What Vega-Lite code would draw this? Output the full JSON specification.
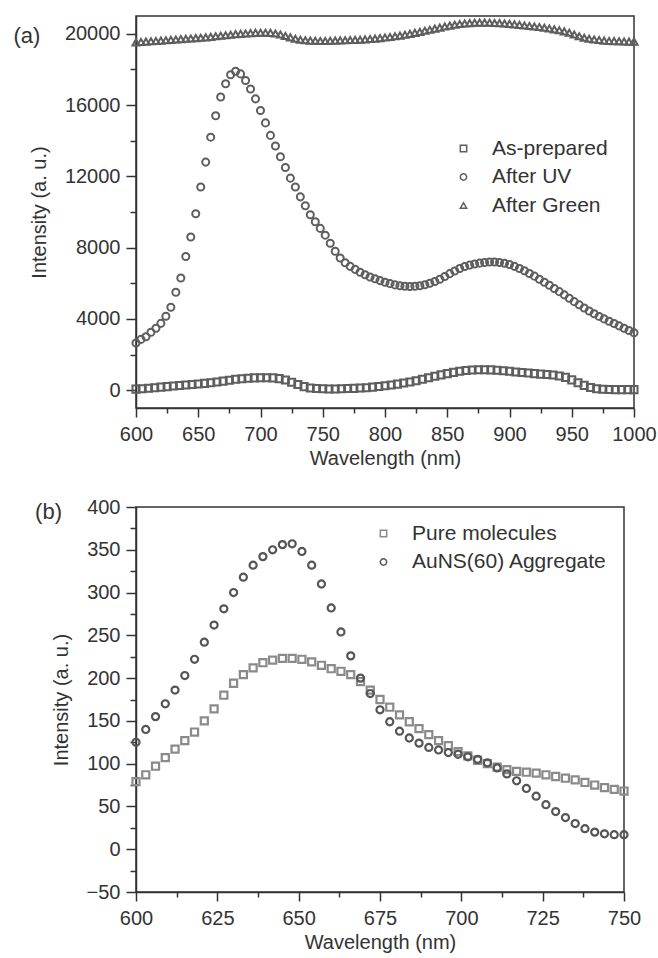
{
  "$schema": "https://vega.github.io/schema/vega-lite/v6.json",
  "padding": {"left": 12, "top": 14, "right": 0, "bottom": 0},
  "background": "white",
  "spacing": 27,
  "datasets": {
    "a": [
      {"s":"As-prepared","w":600,"v":60},{"s":"As-prepared","w":605,"v":80},{"s":"As-prepared","w":610,"v":110},{"s":"As-prepared","w":615,"v":140},{"s":"As-prepared","w":620,"v":170},{"s":"As-prepared","w":625,"v":200},{"s":"As-prepared","w":630,"v":230},{"s":"As-prepared","w":635,"v":260},{"s":"As-prepared","w":640,"v":290},{"s":"As-prepared","w":645,"v":320},{"s":"As-prepared","w":650,"v":350},{"s":"As-prepared","w":655,"v":380},{"s":"As-prepared","w":660,"v":420},{"s":"As-prepared","w":665,"v":460},{"s":"As-prepared","w":670,"v":510},{"s":"As-prepared","w":675,"v":560},{"s":"As-prepared","w":680,"v":610},{"s":"As-prepared","w":685,"v":640},{"s":"As-prepared","w":690,"v":670},{"s":"As-prepared","w":695,"v":690},{"s":"As-prepared","w":700,"v":700},{"s":"As-prepared","w":705,"v":700},{"s":"As-prepared","w":710,"v":690},{"s":"As-prepared","w":715,"v":650},{"s":"As-prepared","w":720,"v":570},{"s":"As-prepared","w":725,"v":450},{"s":"As-prepared","w":730,"v":320},{"s":"As-prepared","w":735,"v":200},{"s":"As-prepared","w":740,"v":120},{"s":"As-prepared","w":745,"v":90},{"s":"As-prepared","w":750,"v":80},{"s":"As-prepared","w":755,"v":70},{"s":"As-prepared","w":760,"v":70},{"s":"As-prepared","w":765,"v":80},{"s":"As-prepared","w":770,"v":90},{"s":"As-prepared","w":775,"v":100},{"s":"As-prepared","w":780,"v":120},{"s":"As-prepared","w":785,"v":140},{"s":"As-prepared","w":790,"v":170},{"s":"As-prepared","w":795,"v":210},{"s":"As-prepared","w":800,"v":250},{"s":"As-prepared","w":805,"v":290},{"s":"As-prepared","w":810,"v":340},{"s":"As-prepared","w":815,"v":400},{"s":"As-prepared","w":820,"v":460},{"s":"As-prepared","w":825,"v":530},{"s":"As-prepared","w":830,"v":610},{"s":"As-prepared","w":835,"v":700},{"s":"As-prepared","w":840,"v":780},{"s":"As-prepared","w":845,"v":860},{"s":"As-prepared","w":850,"v":930},{"s":"As-prepared","w":855,"v":1000},{"s":"As-prepared","w":860,"v":1060},{"s":"As-prepared","w":865,"v":1100},{"s":"As-prepared","w":870,"v":1130},{"s":"As-prepared","w":875,"v":1150},{"s":"As-prepared","w":880,"v":1150},{"s":"As-prepared","w":885,"v":1140},{"s":"As-prepared","w":890,"v":1120},{"s":"As-prepared","w":895,"v":1090},{"s":"As-prepared","w":900,"v":1060},{"s":"As-prepared","w":905,"v":1020},{"s":"As-prepared","w":910,"v":990},{"s":"As-prepared","w":915,"v":960},{"s":"As-prepared","w":920,"v":930},{"s":"As-prepared","w":925,"v":900},{"s":"As-prepared","w":930,"v":880},{"s":"As-prepared","w":935,"v":850},{"s":"As-prepared","w":940,"v":800},{"s":"As-prepared","w":945,"v":720},{"s":"As-prepared","w":950,"v":580},{"s":"As-prepared","w":955,"v":420},{"s":"As-prepared","w":960,"v":270},{"s":"As-prepared","w":965,"v":150},{"s":"As-prepared","w":970,"v":80},{"s":"As-prepared","w":975,"v":50},{"s":"As-prepared","w":980,"v":40},{"s":"As-prepared","w":985,"v":30},{"s":"As-prepared","w":990,"v":30},{"s":"As-prepared","w":995,"v":30},{"s":"As-prepared","w":1000,"v":30},
      {"s":"After UV","w":600,"v":2650},{"s":"After UV","w":604,"v":2850},{"s":"After UV","w":608,"v":3000},{"s":"After UV","w":612,"v":3250},{"s":"After UV","w":616,"v":3480},{"s":"After UV","w":620,"v":3750},{"s":"After UV","w":624,"v":4150},{"s":"After UV","w":628,"v":4650},{"s":"After UV","w":632,"v":5500},{"s":"After UV","w":636,"v":6300},{"s":"After UV","w":640,"v":7500},{"s":"After UV","w":644,"v":8600},{"s":"After UV","w":648,"v":9900},{"s":"After UV","w":652,"v":11400},{"s":"After UV","w":656,"v":12800},{"s":"After UV","w":660,"v":14200},{"s":"After UV","w":664,"v":15400},{"s":"After UV","w":668,"v":16450},{"s":"After UV","w":672,"v":17200},{"s":"After UV","w":676,"v":17700},{"s":"After UV","w":680,"v":17900},{"s":"After UV","w":684,"v":17750},{"s":"After UV","w":688,"v":17380},{"s":"After UV","w":692,"v":16900},{"s":"After UV","w":696,"v":16350},{"s":"After UV","w":700,"v":15700},{"s":"After UV","w":704,"v":15000},{"s":"After UV","w":708,"v":14300},{"s":"After UV","w":712,"v":13700},{"s":"After UV","w":716,"v":13100},{"s":"After UV","w":720,"v":12500},{"s":"After UV","w":724,"v":11900},{"s":"After UV","w":728,"v":11400},{"s":"After UV","w":732,"v":10850},{"s":"After UV","w":736,"v":10350},{"s":"After UV","w":740,"v":9850},{"s":"After UV","w":744,"v":9450},{"s":"After UV","w":748,"v":9080},{"s":"After UV","w":752,"v":8700},{"s":"After UV","w":756,"v":8250},{"s":"After UV","w":760,"v":7800},{"s":"After UV","w":764,"v":7420},{"s":"After UV","w":768,"v":7150},{"s":"After UV","w":772,"v":6950},{"s":"After UV","w":776,"v":6780},{"s":"After UV","w":780,"v":6620},{"s":"After UV","w":784,"v":6480},{"s":"After UV","w":788,"v":6350},{"s":"After UV","w":792,"v":6250},{"s":"After UV","w":796,"v":6150},{"s":"After UV","w":800,"v":6060},{"s":"After UV","w":804,"v":5980},{"s":"After UV","w":808,"v":5910},{"s":"After UV","w":812,"v":5860},{"s":"After UV","w":816,"v":5830},{"s":"After UV","w":820,"v":5820},{"s":"After UV","w":824,"v":5830},{"s":"After UV","w":828,"v":5860},{"s":"After UV","w":832,"v":5920},{"s":"After UV","w":836,"v":6000},{"s":"After UV","w":840,"v":6100},{"s":"After UV","w":844,"v":6230},{"s":"After UV","w":848,"v":6380},{"s":"After UV","w":852,"v":6540},{"s":"After UV","w":856,"v":6690},{"s":"After UV","w":860,"v":6830},{"s":"After UV","w":864,"v":6940},{"s":"After UV","w":868,"v":7020},{"s":"After UV","w":872,"v":7080},{"s":"After UV","w":876,"v":7130},{"s":"After UV","w":880,"v":7170},{"s":"After UV","w":884,"v":7190},{"s":"After UV","w":888,"v":7190},{"s":"After UV","w":892,"v":7170},{"s":"After UV","w":896,"v":7120},{"s":"After UV","w":900,"v":7050},{"s":"After UV","w":904,"v":6950},{"s":"After UV","w":908,"v":6830},{"s":"After UV","w":912,"v":6700},{"s":"After UV","w":916,"v":6550},{"s":"After UV","w":920,"v":6400},{"s":"After UV","w":924,"v":6230},{"s":"After UV","w":928,"v":6060},{"s":"After UV","w":932,"v":5890},{"s":"After UV","w":936,"v":5710},{"s":"After UV","w":940,"v":5530},{"s":"After UV","w":944,"v":5350},{"s":"After UV","w":948,"v":5160},{"s":"After UV","w":952,"v":4970},{"s":"After UV","w":956,"v":4790},{"s":"After UV","w":960,"v":4610},{"s":"After UV","w":964,"v":4440},{"s":"After UV","w":968,"v":4290},{"s":"After UV","w":972,"v":4140},{"s":"After UV","w":976,"v":4000},{"s":"After UV","w":980,"v":3870},{"s":"After UV","w":984,"v":3740},{"s":"After UV","w":988,"v":3610},{"s":"After UV","w":992,"v":3480},{"s":"After UV","w":996,"v":3350},{"s":"After UV","w":1000,"v":3220},
      {"s":"After Green","w":600,"v":19520},{"s":"After Green","w":604,"v":19540},{"s":"After Green","w":608,"v":19560},{"s":"After Green","w":612,"v":19580},{"s":"After Green","w":616,"v":19600},{"s":"After Green","w":620,"v":19620},{"s":"After Green","w":624,"v":19640},{"s":"After Green","w":628,"v":19660},{"s":"After Green","w":632,"v":19680},{"s":"After Green","w":636,"v":19700},{"s":"After Green","w":640,"v":19720},{"s":"After Green","w":644,"v":19740},{"s":"After Green","w":648,"v":19760},{"s":"After Green","w":652,"v":19780},{"s":"After Green","w":656,"v":19800},{"s":"After Green","w":660,"v":19830},{"s":"After Green","w":664,"v":19860},{"s":"After Green","w":668,"v":19890},{"s":"After Green","w":672,"v":19920},{"s":"After Green","w":676,"v":19950},{"s":"After Green","w":680,"v":19980},{"s":"After Green","w":684,"v":20000},{"s":"After Green","w":688,"v":20020},{"s":"After Green","w":692,"v":20040},{"s":"After Green","w":696,"v":20050},{"s":"After Green","w":700,"v":20060},{"s":"After Green","w":704,"v":20060},{"s":"After Green","w":708,"v":20050},{"s":"After Green","w":712,"v":20020},{"s":"After Green","w":716,"v":19960},{"s":"After Green","w":720,"v":19880},{"s":"After Green","w":724,"v":19800},{"s":"After Green","w":728,"v":19720},{"s":"After Green","w":732,"v":19670},{"s":"After Green","w":736,"v":19640},{"s":"After Green","w":740,"v":19620},{"s":"After Green","w":744,"v":19610},{"s":"After Green","w":748,"v":19600},{"s":"After Green","w":752,"v":19600},{"s":"After Green","w":756,"v":19610},{"s":"After Green","w":760,"v":19620},{"s":"After Green","w":764,"v":19630},{"s":"After Green","w":768,"v":19640},{"s":"After Green","w":772,"v":19650},{"s":"After Green","w":776,"v":19660},{"s":"After Green","w":780,"v":19670},{"s":"After Green","w":784,"v":19690},{"s":"After Green","w":788,"v":19710},{"s":"After Green","w":792,"v":19730},{"s":"After Green","w":796,"v":19760},{"s":"After Green","w":800,"v":19790},{"s":"After Green","w":804,"v":19820},{"s":"After Green","w":808,"v":19860},{"s":"After Green","w":812,"v":19900},{"s":"After Green","w":816,"v":19950},{"s":"After Green","w":820,"v":20000},{"s":"After Green","w":824,"v":20050},{"s":"After Green","w":828,"v":20110},{"s":"After Green","w":832,"v":20170},{"s":"After Green","w":836,"v":20230},{"s":"After Green","w":840,"v":20290},{"s":"After Green","w":844,"v":20350},{"s":"After Green","w":848,"v":20410},{"s":"After Green","w":852,"v":20460},{"s":"After Green","w":856,"v":20510},{"s":"After Green","w":860,"v":20550},{"s":"After Green","w":864,"v":20580},{"s":"After Green","w":868,"v":20600},{"s":"After Green","w":872,"v":20620},{"s":"After Green","w":876,"v":20630},{"s":"After Green","w":880,"v":20630},{"s":"After Green","w":884,"v":20620},{"s":"After Green","w":888,"v":20610},{"s":"After Green","w":892,"v":20600},{"s":"After Green","w":896,"v":20580},{"s":"After Green","w":900,"v":20560},{"s":"After Green","w":904,"v":20530},{"s":"After Green","w":908,"v":20500},{"s":"After Green","w":912,"v":20470},{"s":"After Green","w":916,"v":20440},{"s":"After Green","w":920,"v":20410},{"s":"After Green","w":924,"v":20380},{"s":"After Green","w":928,"v":20340},{"s":"After Green","w":932,"v":20300},{"s":"After Green","w":936,"v":20250},{"s":"After Green","w":940,"v":20200},{"s":"After Green","w":944,"v":20140},{"s":"After Green","w":948,"v":20060},{"s":"After Green","w":952,"v":19960},{"s":"After Green","w":956,"v":19860},{"s":"After Green","w":960,"v":19780},{"s":"After Green","w":964,"v":19720},{"s":"After Green","w":968,"v":19680},{"s":"After Green","w":972,"v":19650},{"s":"After Green","w":976,"v":19620},{"s":"After Green","w":980,"v":19600},{"s":"After Green","w":984,"v":19590},{"s":"After Green","w":988,"v":19580},{"s":"After Green","w":992,"v":19570},{"s":"After Green","w":996,"v":19560},{"s":"After Green","w":1000,"v":19560}
    ],
    "b": [
      {"s":"Pure molecules","w":600,"v":79},{"s":"Pure molecules","w":603,"v":87},{"s":"Pure molecules","w":606,"v":97},{"s":"Pure molecules","w":609,"v":107},{"s":"Pure molecules","w":612,"v":117},{"s":"Pure molecules","w":615,"v":127},{"s":"Pure molecules","w":618,"v":137},{"s":"Pure molecules","w":621,"v":150},{"s":"Pure molecules","w":624,"v":164},{"s":"Pure molecules","w":627,"v":180},{"s":"Pure molecules","w":630,"v":194},{"s":"Pure molecules","w":633,"v":204},{"s":"Pure molecules","w":636,"v":212},{"s":"Pure molecules","w":639,"v":218},{"s":"Pure molecules","w":642,"v":221},{"s":"Pure molecules","w":645,"v":223},{"s":"Pure molecules","w":648,"v":223},{"s":"Pure molecules","w":651,"v":222},{"s":"Pure molecules","w":654,"v":219},{"s":"Pure molecules","w":657,"v":215},{"s":"Pure molecules","w":660,"v":211},{"s":"Pure molecules","w":663,"v":208},{"s":"Pure molecules","w":666,"v":204},{"s":"Pure molecules","w":669,"v":196},{"s":"Pure molecules","w":672,"v":186},{"s":"Pure molecules","w":675,"v":175},{"s":"Pure molecules","w":678,"v":166},{"s":"Pure molecules","w":681,"v":157},{"s":"Pure molecules","w":684,"v":149},{"s":"Pure molecules","w":687,"v":141},{"s":"Pure molecules","w":690,"v":134},{"s":"Pure molecules","w":693,"v":127},{"s":"Pure molecules","w":696,"v":121},{"s":"Pure molecules","w":699,"v":114},{"s":"Pure molecules","w":702,"v":109},{"s":"Pure molecules","w":705,"v":104},{"s":"Pure molecules","w":708,"v":100},{"s":"Pure molecules","w":711,"v":96},{"s":"Pure molecules","w":714,"v":93},{"s":"Pure molecules","w":717,"v":91},{"s":"Pure molecules","w":720,"v":90},{"s":"Pure molecules","w":723,"v":89},{"s":"Pure molecules","w":726,"v":87},{"s":"Pure molecules","w":729,"v":85},{"s":"Pure molecules","w":732,"v":83},{"s":"Pure molecules","w":735,"v":81},{"s":"Pure molecules","w":738,"v":78},{"s":"Pure molecules","w":741,"v":75},{"s":"Pure molecules","w":744,"v":72},{"s":"Pure molecules","w":747,"v":70},{"s":"Pure molecules","w":750,"v":68},
      {"s":"AuNS(60) Aggregate","w":600,"v":125},{"s":"AuNS(60) Aggregate","w":603,"v":140},{"s":"AuNS(60) Aggregate","w":606,"v":155},{"s":"AuNS(60) Aggregate","w":609,"v":170},{"s":"AuNS(60) Aggregate","w":612,"v":186},{"s":"AuNS(60) Aggregate","w":615,"v":203},{"s":"AuNS(60) Aggregate","w":618,"v":222},{"s":"AuNS(60) Aggregate","w":621,"v":242},{"s":"AuNS(60) Aggregate","w":624,"v":262},{"s":"AuNS(60) Aggregate","w":627,"v":281},{"s":"AuNS(60) Aggregate","w":630,"v":300},{"s":"AuNS(60) Aggregate","w":633,"v":318},{"s":"AuNS(60) Aggregate","w":636,"v":332},{"s":"AuNS(60) Aggregate","w":639,"v":342},{"s":"AuNS(60) Aggregate","w":642,"v":350},{"s":"AuNS(60) Aggregate","w":645,"v":356},{"s":"AuNS(60) Aggregate","w":648,"v":357},{"s":"AuNS(60) Aggregate","w":651,"v":348},{"s":"AuNS(60) Aggregate","w":654,"v":332},{"s":"AuNS(60) Aggregate","w":657,"v":310},{"s":"AuNS(60) Aggregate","w":660,"v":282},{"s":"AuNS(60) Aggregate","w":663,"v":254},{"s":"AuNS(60) Aggregate","w":666,"v":226},{"s":"AuNS(60) Aggregate","w":669,"v":200},{"s":"AuNS(60) Aggregate","w":672,"v":182},{"s":"AuNS(60) Aggregate","w":675,"v":163},{"s":"AuNS(60) Aggregate","w":678,"v":149},{"s":"AuNS(60) Aggregate","w":681,"v":138},{"s":"AuNS(60) Aggregate","w":684,"v":130},{"s":"AuNS(60) Aggregate","w":687,"v":124},{"s":"AuNS(60) Aggregate","w":690,"v":119},{"s":"AuNS(60) Aggregate","w":693,"v":116},{"s":"AuNS(60) Aggregate","w":696,"v":113},{"s":"AuNS(60) Aggregate","w":699,"v":111},{"s":"AuNS(60) Aggregate","w":702,"v":108},{"s":"AuNS(60) Aggregate","w":705,"v":105},{"s":"AuNS(60) Aggregate","w":708,"v":101},{"s":"AuNS(60) Aggregate","w":711,"v":95},{"s":"AuNS(60) Aggregate","w":714,"v":88},{"s":"AuNS(60) Aggregate","w":717,"v":80},{"s":"AuNS(60) Aggregate","w":720,"v":71},{"s":"AuNS(60) Aggregate","w":723,"v":62},{"s":"AuNS(60) Aggregate","w":726,"v":52},{"s":"AuNS(60) Aggregate","w":729,"v":44},{"s":"AuNS(60) Aggregate","w":732,"v":37},{"s":"AuNS(60) Aggregate","w":735,"v":30},{"s":"AuNS(60) Aggregate","w":738,"v":24},{"s":"AuNS(60) Aggregate","w":741,"v":20},{"s":"AuNS(60) Aggregate","w":744,"v":18},{"s":"AuNS(60) Aggregate","w":747,"v":17},{"s":"AuNS(60) Aggregate","w":750,"v":17}
    ]
  },
  "vconcat": [
    {
      "width": 498,
      "height": 392,
      "title": {"text": "(a)", "anchor": "start", "frame": "bounds", "orient": "top", "offset": 0, "baseline": "middle", "dy": 42, "dx": -16, "fontSize": 22, "fontWeight": "normal", "color": "#333", "font": "Liberation Sans"},
      "data": {"name": "a"},
      "layer": [
        {
          "mark": {"type": "point", "opacity": 0},
          "encoding": {
            "x": {"field": "w", "type": "quantitative", "scale": {"domain": [600, 1000], "nice": false, "zero": false},
                  "axis": {"orient": "bottom", "values": [625, 675, 725, 775, 825, 875, 925, 975], "labels": false, "tickSize": 5, "domain": false, "title": null}},
            "y": {"field": "v", "type": "quantitative", "scale": {"domain": [-1000, 21000], "nice": false, "zero": false},
                  "axis": {"orient": "left", "values": [2000, 6000, 10000, 14000, 18000], "labels": false, "tickSize": 6, "domain": false, "title": null}}
          }
        },
        {
          "mark": {"type": "point", "filled": false, "color": "#5e5e5e", "strokeWidth": 2, "size": 50, "opacity": 1},
          "encoding": {
            "x": {"field": "w", "type": "quantitative",
                  "axis": {"orient": "bottom", "values": [600, 650, 700, 750, 800, 850, 900, 950, 1000], "format": "d", "tickSize": 9, "labelPadding": 7, "title": "Wavelength (nm)", "titlePadding": 4}},
            "y": {"field": "v", "type": "quantitative",
                  "axis": {"orient": "left", "values": [0, 4000, 8000, 12000, 16000, 20000], "format": "d", "tickSize": 10, "labelPadding": 6, "title": "Intensity (a. u.)", "titlePadding": 15}},
            "shape": {"field": "s", "type": "nominal",
                      "scale": {"domain": ["As-prepared", "After UV", "After Green"], "range": ["square", "circle", "triangle-up"]},
                      "legend": {"orient": "none", "legendX": 317, "legendY": 122, "title": null, "symbolStrokeColor": "#5e5e5e"}}
          }
        }
      ],
      "resolve": {"axis": {"x": "independent", "y": "independent"}}
    },
    {
      "width": 488,
      "height": 385,
      "title": {"text": "(b)", "anchor": "start", "frame": "bounds", "orient": "top", "offset": 0, "baseline": "middle", "dy": 37, "dx": -16, "fontSize": 22, "fontWeight": "normal", "color": "#333", "font": "Liberation Sans"},
      "data": {"name": "b"},
      "layer": [
        {
          "mark": {"type": "point", "opacity": 0},
          "encoding": {
            "x": {"field": "w", "type": "quantitative", "scale": {"domain": [600, 750], "nice": false, "zero": false},
                  "axis": {"orient": "bottom", "values": [612.5, 637.5, 662.5, 687.5, 712.5, 737.5], "labels": false, "tickSize": 5, "domain": false, "title": null}},
            "y": {"field": "v", "type": "quantitative", "scale": {"domain": [-50, 400], "nice": false, "zero": false},
                  "axis": {"orient": "left", "values": [-25, 25, 75, 125, 175, 225, 275, 325, 375], "labels": false, "tickSize": 6, "domain": false, "title": null}}
          }
        },
        {
          "mark": {"type": "point", "filled": false, "strokeWidth": 2.2, "size": 50, "opacity": 1},
          "encoding": {
            "x": {"field": "w", "type": "quantitative",
                  "axis": {"orient": "bottom", "values": [600, 625, 650, 675, 700, 725, 750], "format": "d", "tickSize": 9, "labelPadding": 7, "title": "Wavelength (nm)", "titlePadding": 4}},
            "y": {"field": "v", "type": "quantitative",
                  "axis": {"orient": "left", "values": [-50, 0, 50, 100, 150, 200, 250, 300, 350, 400], "tickSize": 10, "labelPadding": 6, "title": "Intensity (a. u.)", "titlePadding": 15}},
            "shape": {"field": "s", "type": "nominal",
                      "scale": {"domain": ["Pure molecules", "AuNS(60) Aggregate"], "range": ["square", "circle"]},
                      "legend": {"orient": "none", "legendX": 237, "legendY": 16, "title": null}},
            "color": {"field": "s", "type": "nominal",
                      "scale": {"domain": ["Pure molecules", "AuNS(60) Aggregate"], "range": ["#8a8a8a", "#555555"]},
                      "legend": {"orient": "none", "legendX": 237, "legendY": 16, "title": null}}
          }
        }
      ],
      "resolve": {"axis": {"x": "independent", "y": "independent"}}
    }
  ],
  "resolve": {"scale": {"shape": "independent", "color": "independent"}, "legend": {"shape": "independent", "color": "independent"}},
  "config": {
    "font": "Liberation Sans",
    "view": {"stroke": "#333", "strokeWidth": 1.5},
    "axis": {"grid": false, "domainColor": "#333", "domainWidth": 1.5, "tickColor": "#333", "tickWidth": 1.5,
             "labelFont": "Liberation Sans", "labelFontSize": 20, "labelColor": "#333", "labelFlush": false, "labelOverlap": false,
             "titleFont": "Liberation Sans", "titleFontSize": 20, "titleFontWeight": "normal", "titleColor": "#333"},
    "legend": {"padding": 0, "labelFont": "Liberation Sans", "labelFontSize": 21, "labelColor": "#333", "labelLimit": 0, "symbolSize": 40, "symbolStrokeWidth": 1.5, "labelOffset": 18, "rowPadding": 6.5}
  }
}
